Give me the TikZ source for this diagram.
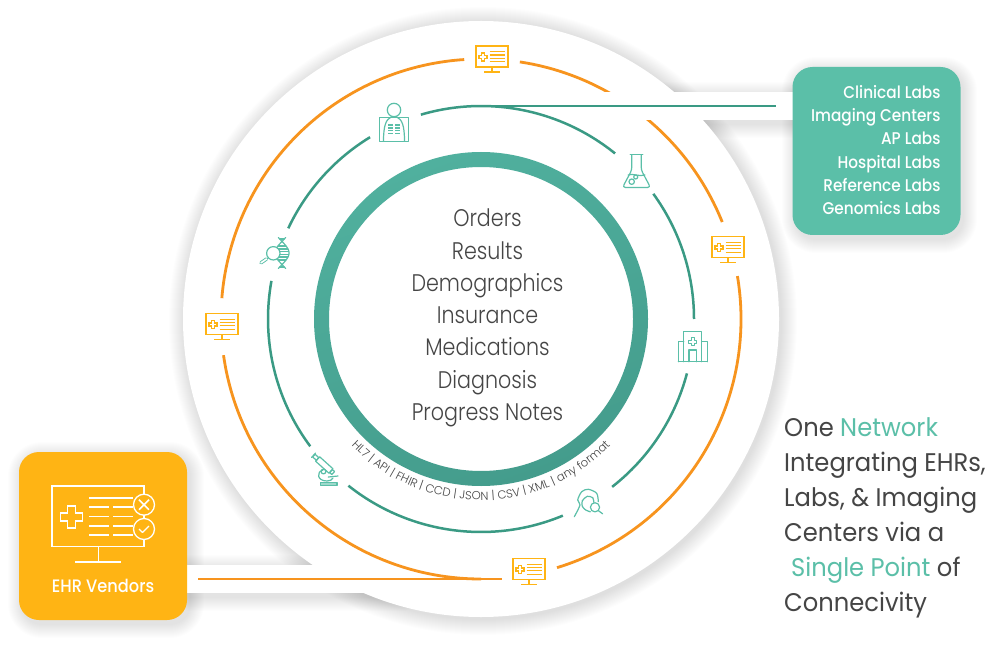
\documentclass[tikz,border=0pt]{standalone}
\usepackage{fontspec}
\usepackage{tikz}
\setmainfont{Poppins}[FakeStretch=.95]
\newfontfamily\lightfont{Poppins}[UprightFont=* Light, FakeStretch=.86]
\newfontfamily\ringfont{Poppins}[UprightFont=* Light]
\newfontfamily\mediumfont{Poppins}[UprightFont=* Medium, FakeStretch=.9]
\usetikzlibrary{positioning,decorations.text}
\definecolor{ehrorange}{HTML}{FFB414}
\definecolor{arcorange}{HTML}{F7941E}
\definecolor{labgreen}{HTML}{5BBFA8}
\definecolor{arcgreen}{HTML}{3A9A84}
\definecolor{ringlight}{HTML}{50B09E}
\definecolor{ringdark}{HTML}{449C8C}
\definecolor{textgray}{HTML}{454545}

% plus sign: style, centre x, centre y, half size, half arm
\newcommand{\plusmark}[5]{%
  \draw[#1] (#2,#3) ++(-#4,-#5) -- ++(#4-#5,0) -- ++(0,#5-#4) -- ++(2*#5,0) -- ++(0,#4-#5)
    -- ++(#4-#5,0) -- ++(0,2*#5) -- ++(#5-#4,0) -- ++(0,#4-#5) -- ++(-2*#5,0)
    -- ++(0,#5-#4) -- ++(#5-#4,0) -- cycle;}
\newcommand{\softbox}[5]{%
  \foreach \s in {1,...,14} {
    \fill[black, opacity=.009, rounded corners=#5+\s]
      (#1-\s+3,#2-\s-4) rectangle (#3+\s+3,#4+\s-4);
  }}

\tikzset{
  arcline/.style={line width=2.8pt, arcorange},
  ringline/.style={line width=2.5pt, arcgreen},
  iconline/.style={line width=1.2pt, labgreen, line cap=round, line join=round},
  monline/.style={line width=1.05pt, ehrorange},
  vendline/.style={line width=1.3pt, white},
  boxnode/.style={rounded corners=20pt, minimum width=168pt, minimum height=168pt, inner sep=0pt},
  pics/monitor/.style={code={
    \draw[monline] (-16,-10.5) rectangle (16,10.5);
    \draw[monline] (0,-10.5) -- (0,-15.5) (-8,-15.5) -- (8,-15.5);
    \draw[monline] (-2.5,4.8) -- (12.5,4.8) (-2.5,1.5) -- (12.5,1.5)
                   (-2.5,-1.8) -- (12.5,-1.8) (-2.5,-5.2) -- (12.5,-5.2);
    \plusmark{monline}{-9}{-.5}{4}{1.5}
  }},
  pics/xray/.style={code={
    \draw[iconline] (-14.2,-12) rectangle (14.2,12);
    \draw[iconline] (0,19.3) circle (6.7);
    \draw[iconline] (-10.5,-12) .. controls (-10.5,4) and (-8,10) .. (-2.5,12.5);
    \draw[iconline] (10.5,-12) .. controls (10.5,4) and (8,10) .. (2.5,12.5);
    \foreach \h in {4.2,1.4,-1.4,-4.2} {
      \draw[iconline, line width=1.5pt, line cap=butt] (-5.8,\h) -- (-1,\h) (1,\h) -- (5.8,\h);
    }
  }},
  pics/flask/.style={code={
    \draw[iconline] (-6.3,16.3) -- (6.3,16.3);
    \draw[iconline, rounded corners=3pt] (-4.7,16.3) -- (-4.7,1) -- (-14,-16.5) -- (14,-16.5) -- (4.7,1) -- (4.7,16.3);
    \draw[iconline] (-8.4,-4) .. controls (-4,-2) and (3,-6) .. (8.4,-4);
    \draw[iconline] (-4.8,-10.7) circle (2.7);
    \draw[iconline] (-.8,-6) circle (2);
  }},
  pics/hospital/.style={code={
    \draw[iconline] (-14.4,-15) -- (14.4,-15);
    \draw[iconline] (-9,-15) -- (-9,15) -- (9,15) -- (9,-15);
    \draw[iconline] (-9,5) -- (-14.4,5) -- (-14.4,-15) (9,5) -- (14.4,5) -- (14.4,-15);
    \draw[iconline] (-3.7,-15) -- (-3.7,-3.3) -- (3.7,-3.3) -- (3.7,-15);
    \plusmark{iconline}{0}{5}{4}{1.4}
  }},
  pics/microscope/.style={code={
    \draw[iconline, fill=labgreen!60] (-4.5,-13.3) rectangle (12,-16.5);
    \begin{scope}[shift={(-.7,4)}, rotate=-42]
      \draw[iconline, fill=white] (-9,-3) rectangle (9,3);
      \draw[iconline] (-14,-1.8) rectangle (-9,1.8);
      \draw[iconline] (-14.5,-3) -- (-14.5,3);
      \draw[iconline] (9,-2) rectangle (12,2);
    \end{scope}
    \draw[iconline] (-2,-1) .. controls (-9,-3) and (-8,-12) .. (2,-12) .. controls (5,-12) and (7,-11) .. (8,-9);
    \draw[iconline] (3.3,-8) -- (13,-7);
    \draw[iconline] (-1.5,-2.5) circle (2.4);
  }},
  pics/facelens/.style={code={
    \draw[iconline] plot[smooth] coordinates {(-14,-13.4) (-8.3,-1.7) (-10.6,3.3) (-6.6,11.6) (0,14) (8.4,10) (10,1.6)};
    \draw[iconline] plot[smooth] coordinates {(5.5,1) (4.5,5.5) (-1,7) (-6,2.5) (-6,-3) (-2.6,-6.7) (2,-8.5)};
    \draw[iconline, fill=white] (6.7,-4) circle (4.6);
    \draw[iconline] (10,-7.3) -- (14.3,-10.5);
  }},
  pics/dnalens/.style={code={
    \draw[iconline] plot[domain=-15.5:15.5, samples=25, smooth] ({1.5+7*cos(\x*7.8)},\x);
    \draw[iconline] plot[domain=-15.5:15.5, samples=25, smooth] ({1.5-7*cos(\x*7.8)},\x);
    \foreach \h in {-14,-7,-4,-1.3,1.3,4,7,14} {
      \draw[iconline] ({1.5-6.6*abs(cos(\h*7.8))},\h) -- ({1.5+6.6*abs(cos(\h*7.8))},\h);
    }
    \draw[iconline, fill=white] (-7.2,-.3) circle (6.7);
    \draw[line width=.9pt, labgreen, double=white, double distance=1.6pt, line cap=round] (-14,-6) -- (-19.5,-9.8);
  }},
  pics/vendorscreen/.style={code={
    \draw[vendline] (-51,-10.3) rectangle (41,50);
    \draw[vendline] (-4.7,-10.3) -- (-4.7,-26) (-28,-26) -- (18,-26);
    \plusmark{vendline}{-31.7}{19}{11}{4}
    \draw[vendline] (-14,38) -- (30,38);
    \foreach \h in {29,19.3,10,1} {
      \draw[vendline] (-14,\h) -- (6,\h) (10,\h) -- (30,\h);
    }
    \draw[vendline, fill=ehrorange] (41,31.3) circle (10.5);
    \draw[vendline, fill=ehrorange] (41,7) circle (10.5);
    \draw[line width=1.6pt, white] (36,26.3) -- (46,36.3) (36,36.3) -- (46,26.3);
    \draw[line width=1.4pt, white, line join=round] (36,7) -- (39.5,3.5) -- (46,10);
  }}
}

\begin{document}
\begin{tikzpicture}[x=1pt, y=1pt]
    \useasboundingbox[fill=white] (0,0) rectangle (1000,654);

    \coordinate (hub) at (481,335);
    \coordinate (hub_top) at (481,548);
    \coordinate (labs_end) at (776,548);
    \coordinate (ehr_end) at (198,75);
    \coordinate (ehr_tip) at (502,75);

    % soft shadows
    \foreach \s in {1,...,16} {
      \fill[black, opacity=.009] ([xshift=2pt,yshift=-2pt]hub) circle (298+\s);
    }
    \softbox{600}{534}{793}{562}{0}
    \softbox{187}{61}{400}{89}{0}
    \softbox{793}{419}{960}{587}{20}
    \softbox{19}{34}{187}{202}{20}

    % disc and white bands
    \fill[white] (hub) circle (298);
    \fill[white] (187,61) rectangle (400,89);

    % orange ring
    \draw[arcline] (hub) ++(93.7:260) arc[start angle=93.7, end angle=175.4, radius=260];
    \draw[arcline] (hub) ++(188:260) arc[start angle=188, end angle=270, radius=260];
    \draw[arcline] (hub) ++(287:260) arc[start angle=287, end angle=369.5, radius=260];
    \draw[arcline] (hub) ++(21.9:260) arc[start angle=21.9, end angle=81.4, radius=260];
    \draw[arcline] (ehr_end) -- (ehr_tip);

    \fill[white] (600,534) rectangle (793,562);

    % green ring
    \draw[ringline] (hub) ++(106.4:213) arc[start angle=106.4, end angle=51, radius=213];
    \draw[ringline] (hub) ++(36:213) arc[start angle=36, end angle=0, radius=213];
    \draw[ringline] (hub) ++(-14.8:213) arc[start angle=-14.8, end angle=-52, radius=213];
    \draw[ringline] (hub) ++(-67.4:213) arc[start angle=-67.4, end angle=-128.5, radius=213];
    \draw[ringline] (hub) ++(216.7:213) arc[start angle=216.7, end angle=169.7, radius=213];
    \draw[ringline] (hub) ++(154.8:213) arc[start angle=154.8, end angle=121.4, radius=213];
    \draw[ringline] (hub_top) -- (labs_end);

    % centre ring
    \shade[even odd rule, left color=ringlight, right color=ringdark, shading angle=20]
      (hub) circle (167) circle (152);

    \node[font=\lightfont\fontsize{24}{32.3}\selectfont, text=textgray, align=center] (data_list) at (487.5,336)
      {Orders\\Results\\Demographics\\Insurance\\Medications\\Diagnosis\\Progress Notes};

    \path[decorate, decoration={text along path, text align=center,
        text={|\ringfont\fontsize{11.6}{13}\selectfont\color{textgray}|HL7 {|} API {|} FHIR {|} CCD {|} JSON {|} CSV {|} XML {|} any format}}]
      (hub) ++(223:181) arc[start angle=223, end angle=317, radius=181];

    % icons on the rings
    \pic (mon_top) at (492,597.5) {monitor};
    \pic (mon_right) at (728,407) {monitor};
    \pic (mon_bottom) at (529,85) {monitor};
    \pic (mon_left) at (222,330) {monitor};
    \pic (xray_icon) at (394,524.7) {xray};
    \pic (flask_icon) at (636.5,483) {flask};
    \pic (hospital_icon) at (692.7,307.3) {hospital};
    \pic (face_icon) at (588.3,150.7) {facelens};
    \pic (scope_icon) at (325,185) {microscope};
    \pic (dna_icon) at (280.5,401) {dnalens};

    % boxes
    \node[boxnode, fill=labgreen] (labs) at (876.5,503) {};
    \node[boxnode, fill=ehrorange] (ehr) at (103,118) {};
    \node[anchor=east, font=\mediumfont\fontsize{17}{23.2}\selectfont, text=white, align=right, inner sep=0pt]
      (labs_names) at ([xshift=-20pt,yshift=1pt]labs.east)
      {Clinical Labs\\Imaging Centers\\AP Labs\\Hospital Labs\\Reference Labs\\Genomics Labs};
    \pic (vendor_screen) at (103,118) {vendorscreen};
    \node[font=\mediumfont\fontsize{18}{20}\selectfont, text=white, inner sep=0pt] (ehr_name) at (103,68) {EHR Vendors};

    \node[anchor=north west, font=\fontsize{25.5}{35}\selectfont, text=textgray, align=left, inner sep=0pt] (slogan) at (784,237)
      {One \textcolor{labgreen}{Network}\\Integrating EHRs,\\Labs, \& Imaging\\Centers via a\\\hspace*{7pt}\textcolor{labgreen}{Single Point} of\\Connecivity};
\end{tikzpicture}
\end{document}
